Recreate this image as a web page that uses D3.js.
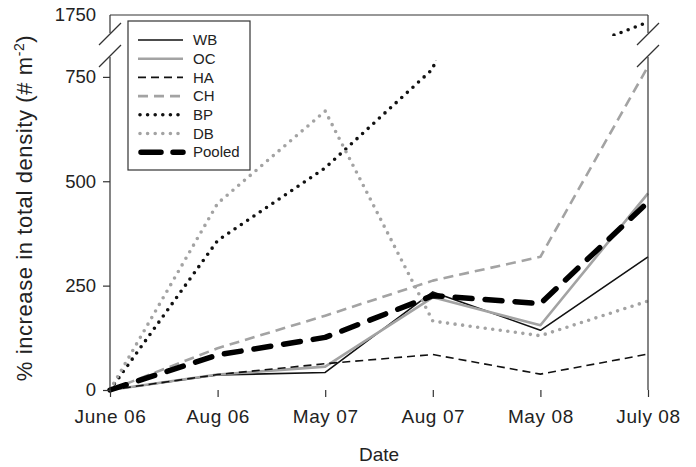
<!DOCTYPE html>
<html>
<head>
<meta charset="utf-8">
<script src="https://cdn.jsdelivr.net/npm/d3@7"></script>
<style>
  body { margin: 0; background: #fff; }
  text { font-family: Arial, "Liberation Sans", sans-serif; fill: #222; }
</style>
</head>
<body>
<div id="chart"></div>
<script>
// values (% increase in total density)
var dates = ["June 06", "Aug 06", "May 07", "Aug 07", "May 08", "July 08"];
var WB = [0, 36, 42, 235, 143, 319];
var OC = [0, 37, 56, 222, 155, 471];
var HA = [0, 37, 63, 85, 38, 86];
var CH = [0, 100, 178, 262, 319, 775];
var BP = [0, 358, 532, 769, 1635, 1733];
var DB = [0, 447, 668, 165, 130, 213];
var Pooled = [0, 84, 126, 226, 207, 450];
var yTicksLow = [0, 250, 500, 750];
var yTicksHigh = [1750];

var W = 696, H = 467;
var L = 110, R = 648, T = 15, B = 390;

var series = [
  {name: "WB", values: WB, color: "#111", width: 1.6, dash: null, cap: "butt"},
  {name: "OC", values: OC, color: "#a3a3a3", width: 2.6, dash: null, cap: "butt"},
  {name: "HA", values: HA, color: "#111", width: 1.6, dash: "8,5", cap: "butt"},
  {name: "CH", values: CH, color: "#a3a3a3", width: 2.6, dash: "10,6", cap: "butt"},
  {name: "BP", values: BP, color: "#111", width: 3.6, dash: "0,7.6", cap: "round"},
  {name: "DB", values: DB, color: "#a3a3a3", width: 3.6, dash: "0,7.6", cap: "round"},
  {name: "Pooled", values: Pooled, color: "#000", width: 5.5, dash: "17,13", cap: "round"}
];

var svg = d3.select("#chart").append("svg")
  .attr("width", W).attr("height", H);

var x = d3.scalePoint().domain(dates).range([L, R]);
// broken axis: lower panel and upper panel share the same px per unit
var yLow = d3.scaleLinear().domain([0, 800]).range([B, 56]);
var yHigh = d3.scaleLinear().domain([1700, 1750]).range([36, T]);

var defs = svg.append("defs");
defs.append("clipPath").attr("id", "clipLow").append("rect")
  .attr("x", L - 10).attr("y", 60).attr("width", R - L + 20).attr("height", B - 60 + 10);
defs.append("clipPath").attr("id", "clipHigh").append("rect")
  .attr("x", L - 10).attr("y", T).attr("width", R - L + 20).attr("height", 36 - T);

function drawPanel(yScale, clipId) {
  var g = svg.append("g").attr("clip-path", "url(#" + clipId + ")");
  series.forEach(function(s) {
    var line = d3.line()
      .x(function(d, i) { return x(dates[i]); })
      .y(function(d) { return yScale(d); });
    g.append("path")
      .datum(s.values)
      .attr("d", line)
      .attr("fill", "none")
      .attr("stroke", s.color)
      .attr("stroke-width", s.width)
      .attr("stroke-dasharray", s.dash)
      .attr("stroke-linecap", s.cap)
      .attr("stroke-linejoin", "round");
  });
}
drawPanel(yLow, "clipLow");
drawPanel(yHigh, "clipHigh");

// frame
var frame = svg.append("g").attr("stroke", "#333").attr("stroke-width", 1.2).attr("fill", "none");
frame.append("line").attr("x1", L).attr("x2", R).attr("y1", T).attr("y2", T);
[L, R].forEach(function(px) {
  frame.append("line").attr("x1", px).attr("x2", px).attr("y1", T).attr("y2", 33);
  frame.append("line").attr("x1", px).attr("x2", px).attr("y1", 57).attr("y2", B);
  frame.append("line").attr("x1", px - 11).attr("x2", px + 11).attr("y1", 45).attr("y2", 23);
  frame.append("line").attr("x1", px - 11).attr("x2", px + 11).attr("y1", 67).attr("y2", 45);
});

// axes
var xAxis = d3.axisBottom(x).tickSize(7).tickPadding(9);
var gx = svg.append("g").attr("transform", "translate(0," + B + ")").call(xAxis);
var yAxisLow = d3.axisLeft(yLow).tickValues(yTicksLow).tickSize(7).tickPadding(7);
var gyl = svg.append("g").attr("transform", "translate(" + L + ",0)").call(yAxisLow);
var yAxisHigh = d3.axisLeft(yHigh).tickValues(yTicksHigh).tickFormat(d3.format("d"))
  .tickSize(0).tickPadding(14);
var gyh = svg.append("g").attr("transform", "translate(" + L + ",0)").call(yAxisHigh);
[gx, gyl, gyh].forEach(function(g) {
  g.select(".domain").remove();
  g.selectAll(".tick line").attr("stroke", "#333").attr("stroke-width", 1.2);
  g.selectAll(".tick text").style("font-size", "18.5px").attr("fill", "#222")
    .style("font-family", "Arial, 'Liberation Sans', sans-serif");
});
gx.selectAll(".tick text").style("font-size", "19px").style("letter-spacing", "0.6px").attr("dy", "0.9em");

// axis titles
svg.append("text")
  .attr("x", (L + R) / 2).attr("y", 461)
  .attr("text-anchor", "middle")
  .style("font-size", "19px")
  .text("Date");

var yt = svg.append("text")
  .attr("transform", "translate(32,208) rotate(-90)")
  .attr("text-anchor", "middle")
  .style("font-size", "22px")
  .style("letter-spacing", "0.6px");
yt.append("tspan").text("% increase in total density (# m");
yt.append("tspan").attr("dy", -8).style("font-size", "14px").text("-2");
yt.append("tspan").attr("dy", 8).text(")");

// legend
var legend = svg.append("g").attr("transform", "translate(128,21)");
legend.append("rect")
  .attr("width", 122).attr("height", 149)
  .attr("fill", "#fff").attr("stroke", "#333").attr("stroke-width", 1.2);
var item = legend.selectAll(".legend")
  .data(series)
  .enter().append("g")
  .attr("class", "legend")
  .attr("transform", function(d, i) { return "translate(0," + (19 + i * 18.7) + ")"; });
item.append("line")
  .attr("x1", function(d) { return d.cap == "round" ? (d.name == "Pooled" ? 13 : 12) : 10; })
  .attr("x2", 55)
  .attr("stroke", function(d) { return d.color; })
  .attr("stroke-width", function(d) { return d.width; })
  .attr("stroke-dasharray", function(d) { return d.name == "Pooled" ? "20,12" : d.dash; })
  .attr("stroke-linecap", function(d) { return d.cap; });
item.append("text")
  .attr("x", 65).attr("dy", "0.35em")
  .style("font-size", "15px")
  .text(function(d) { return d.name; });
</script>
</body>
</html>
